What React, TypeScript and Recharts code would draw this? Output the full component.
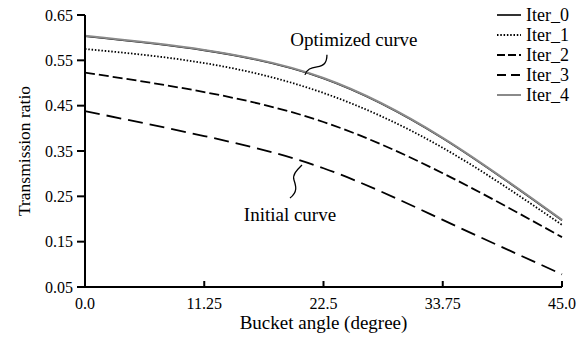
import React from 'react';
import { LineChart, Line, XAxis, YAxis, ReferenceDot, Label } from 'recharts';

const angles = [0, 11.25, 22.5, 33.75, 45];
const iter0 = [0.603, 0.572, 0.510, 0.378, 0.197];
const iter1 = [0.575, 0.544, 0.478, 0.357, 0.187];
const iter2 = [0.523, 0.480, 0.414, 0.301, 0.160];
const iter3 = [0.438, 0.383, 0.312, 0.198, 0.078];
const iter4 = [0.604, 0.573, 0.511, 0.379, 0.198];
const xTicks = [0, 11.25, 22.5, 33.75, 45];
const xTickLabels = ['0.0', '11.25', '22.5', '33.75', '45.0'];
const yTicks = [0.05, 0.15, 0.25, 0.35, 0.45, 0.55, 0.65];
const seriesNames = ['Iter_0', 'Iter_1', 'Iter_2', 'Iter_3', 'Iter_4'];

const data = angles.map((a, i) => ({
  angle: a,
  Iter_0: iter0[i],
  Iter_1: iter1[i],
  Iter_2: iter2[i],
  Iter_3: iter3[i],
  Iter_4: iter4[i],
}));

const styles: Record<string, { color: string; width: number; dash?: string }> = {
  Iter_0: { color: '#000', width: 1.6 },
  Iter_1: { color: '#000', width: 1.8, dash: '1.5 1.8' },
  Iter_2: { color: '#000', width: 1.8, dash: '10 4' },
  Iter_3: { color: '#000', width: 1.8, dash: '15 7' },
  Iter_4: { color: '#8a8a8a', width: 2 },
};

const FONT = '"Liberation Serif", "Times New Roman", serif';

const XTick = (props: any) => {
  const { x, y, payload } = props;
  const idx = xTicks.indexOf(payload.value);
  return (
    <g>
      <line x1={x} x2={x} y1={y} y2={y - 6} stroke="#000" strokeWidth={2} />
      <text x={x} y={y + 22} textAnchor="middle" fontSize={16} fontFamily={FONT} fill="#000">
        {idx >= 0 ? xTickLabels[idx] : payload.value}
      </text>
    </g>
  );
};

const LegendBox = () => (
  <div style={{ position: 'absolute', left: 497, top: 5, fontFamily: FONT, fontSize: 18, lineHeight: '20px', color: '#000' }}>
    {seriesNames.map((n) => {
      const s = styles[n];
      return (
        <div key={n} style={{ display: 'flex', alignItems: 'center', height: 20 }}>
          <svg width={24} height={10} style={{ marginRight: 5 }}>
            <line x1={0} x2={24} y1={5} y2={5} stroke={s.color} strokeWidth={s.width}
              strokeDasharray={n === 'Iter_3' ? '9 5' : n === 'Iter_2' ? '8 3' : s.dash} />
          </svg>
          <span>{n}</span>
        </div>
      );
    })}
  </div>
);

const OptShape = (props: any) => {
  const { cx, cy } = props;
  return (
    <g>
      <path d={`M${cx},${cy} C${cx + 2},${cy - 6} ${cx + 6},${cy - 7} ${cx + 12},${cy - 8} C${cx + 19},${cy - 9} ${cx + 22},${cy - 12} ${cx + 22},${cy - 20}`}
        fill="none" stroke="#000" strokeWidth={1.3} />
      <text x={cx + 49} y={cy - 29} textAnchor="middle" fontSize={19} fontFamily={FONT} fill="#000">Optimized curve</text>
    </g>
  );
};

const InitShape = (props: any) => {
  const { cx, cy } = props;
  return (
    <g>
      <path d={`M${cx},${cy} C${cx - 4},${cy + 4} ${cx - 10},${cy + 9} ${cx - 8},${cy + 15} C${cx - 6},${cy + 21} ${cx - 4},${cy + 27} ${cx - 12},${cy + 33}`}
        fill="none" stroke="#000" strokeWidth={1.3} />
      <text x={cx - 12} y={cy + 56} textAnchor="middle" fontSize={19} fontFamily={FONT} fill="#000">Initial curve</text>
    </g>
  );
};

export default function App() {
  return (
    <div style={{ position: 'absolute', left: 0, top: 0, width: 583, height: 349, background: '#fff' }}>
      <LineChart width={583} height={349} data={data} margin={{ top: 15, right: 21, bottom: 12, left: 25 }}>
        <XAxis
          dataKey="angle"
          type="number"
          domain={[0, 45]}
          ticks={xTicks}
          tickSize={0}
          tickMargin={0}
          tick={<XTick />}
          axisLine={{ stroke: '#000', strokeWidth: 2 }}
          tickLine={false}
          height={50}
          interval={0}
        >
          <Label value="Bucket angle (degree)" position="insideBottom" offset={8}
            style={{ fontSize: 19, fontFamily: FONT, fill: '#000' }} />
        </XAxis>
        <YAxis
          type="number"
          domain={[0.05, 0.65]}
          ticks={yTicks}
          tickFormatter={(v: number) => v.toFixed(2)}
          tick={{ fontSize: 16, fontFamily: FONT, fill: '#000' }}
          tickSize={8}
          tickMargin={4}
          tickLine={{ stroke: '#000', strokeWidth: 2 }}
          axisLine={{ stroke: '#000', strokeWidth: 2 }}
          width={60}
          interval={0}
        >
          <Label value="Transmission ratio" angle={-90} position="insideLeft" offset={-1}
            style={{ fontSize: 17.5, fontFamily: FONT, fill: '#000', textAnchor: 'middle' }} />
        </YAxis>
        {seriesNames.map((n) => (
          <Line key={n} dataKey={n} type="natural" stroke={styles[n].color} strokeWidth={styles[n].width}
            strokeDasharray={styles[n].dash} dot={false} activeDot={false} isAnimationActive={false} />
        ))}
        <ReferenceDot x={20.75} y={0.518} r={0} shape={<OptShape />} ifOverflow="visible" />
        <ReferenceDot x={20.47} y={0.319} r={0} shape={<InitShape />} ifOverflow="visible" />
      </LineChart>
      <LegendBox />
    </div>
  );
}
